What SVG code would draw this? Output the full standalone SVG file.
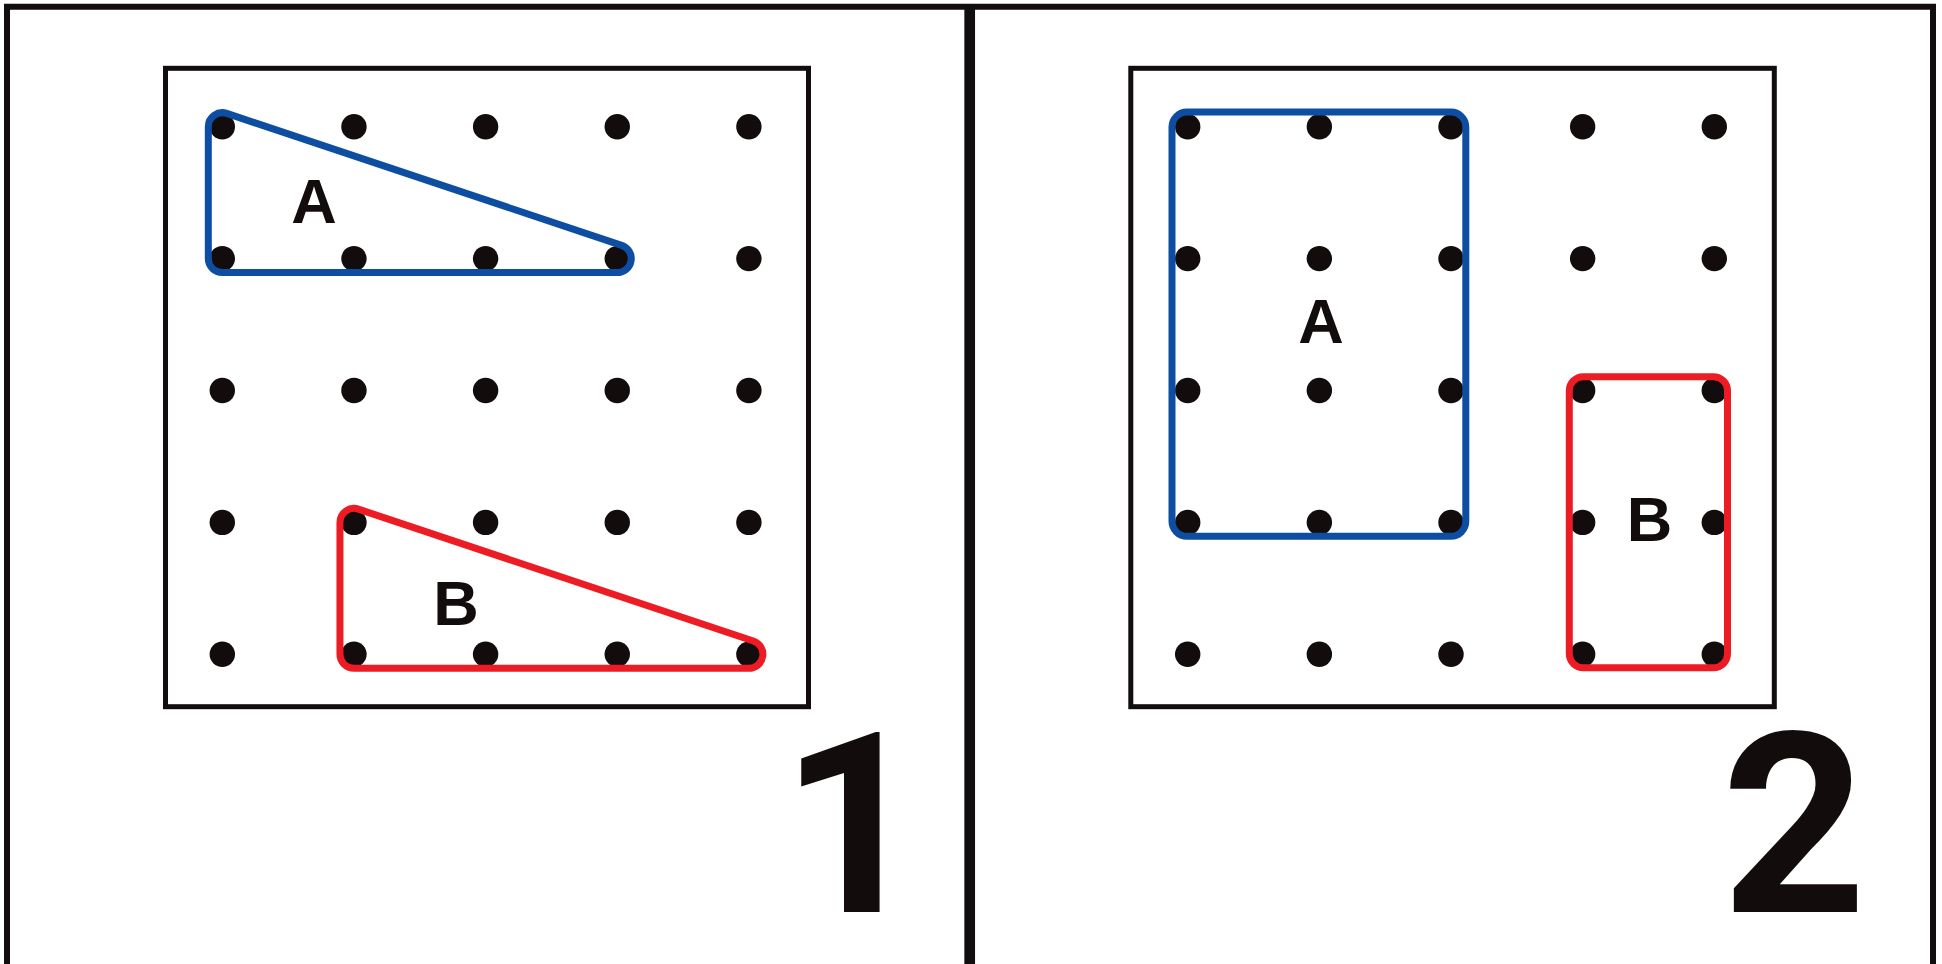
<svg xmlns="http://www.w3.org/2000/svg" width="1942" height="964" viewBox="0 0 1942 964">
  <style>
    .frame { fill: none; stroke: #120d0e; }
    .board { fill: #ffffff; stroke: #120d0e; stroke-width: 5; }
    .peg { fill: #120c0d; }
    .band { fill: none; stroke-width: 7; stroke-linejoin: round; }
    .blue { stroke: #0d4ea3; }
    .red { stroke: #ed1c24; }
    .lbl { font-family: "Liberation Sans", Arial, sans-serif; font-weight: bold; font-size: 63px; fill: #120c0d; text-anchor: middle; }
    .num { font-family: Roboto, "Liberation Sans", sans-serif; font-weight: bold; font-size: 253px; fill: #120c0d; text-anchor: middle; }
  </style>
  <defs>
    <g id="pegrow">
      <circle class="peg" cx="0" cy="0" r="12.7"/>
      <circle class="peg" cx="131.65" cy="0" r="12.7"/>
      <circle class="peg" cx="263.3" cy="0" r="12.7"/>
      <circle class="peg" cx="394.95" cy="0" r="12.7"/>
      <circle class="peg" cx="526.6" cy="0" r="12.7"/>
    </g>
    <g id="pegs">
      <use href="#pegrow" y="0"/>
      <use href="#pegrow" y="131.9"/>
      <use href="#pegrow" y="263.8"/>
      <use href="#pegrow" y="395.7"/>
      <use href="#pegrow" y="527.6"/>
    </g>
  </defs>
  <rect x="0" y="0" width="1942" height="964" fill="#ffffff"/>
  <g id="frame">
    <path class="frame" stroke-width="6" d="M 7 964 L 7 6.7 L 1933 6.7 L 1933 964"/>
    <line class="frame" stroke-width="10.7" x1="969.7" y1="6.7" x2="969.7" y2="964"/>
  </g>
  <g id="panel1">
    <rect class="board" x="165.5" y="68.3" width="643" height="638.4"/>
    <use href="#pegs" x="222.3" y="126.7"/>
    <g id="shape-1A">
      <path class="band blue" d="M 226.74 113.42 L 621.69 245.32 A 14 14 0 0 1 617.25 272.6 L 222.3 272.6 A 14 14 0 0 1 208.3 258.6 L 208.3 126.7 A 14 14 0 0 1 226.74 113.42 Z"/>
      <text class="lbl" x="314" y="223">A</text>
    </g>
    <g id="shape-1B">
      <path class="band red" d="M 358.39 509.12 L 753.34 641.02 A 14 14 0 0 1 748.9 668.3 L 353.95 668.3 A 14 14 0 0 1 339.95 654.3 L 339.95 522.4 A 14 14 0 0 1 358.39 509.12 Z"/>
      <text class="lbl" x="456" y="625">B</text>
    </g>
    <text id="num1" class="num" x="853" y="912">1</text>
  </g>
  <g id="panel2">
    <rect class="board" x="1130.8" y="68.3" width="643.5" height="638.4"/>
    <use href="#pegs" x="1187.7" y="126.7"/>
    <g id="shape-2A">
      <rect class="band blue" x="1172" y="112" width="293.8" height="424.3" rx="15" ry="15"/>
      <text class="lbl" x="1321" y="343">A</text>
    </g>
    <g id="shape-2B">
      <rect class="band red" x="1569.3" y="376.7" width="158.2" height="291.1" rx="14" ry="14"/>
      <text class="lbl" x="1649.5" y="541">B</text>
    </g>
    <text id="num2" class="num" x="1794" y="912">2</text>
  </g>
</svg>
